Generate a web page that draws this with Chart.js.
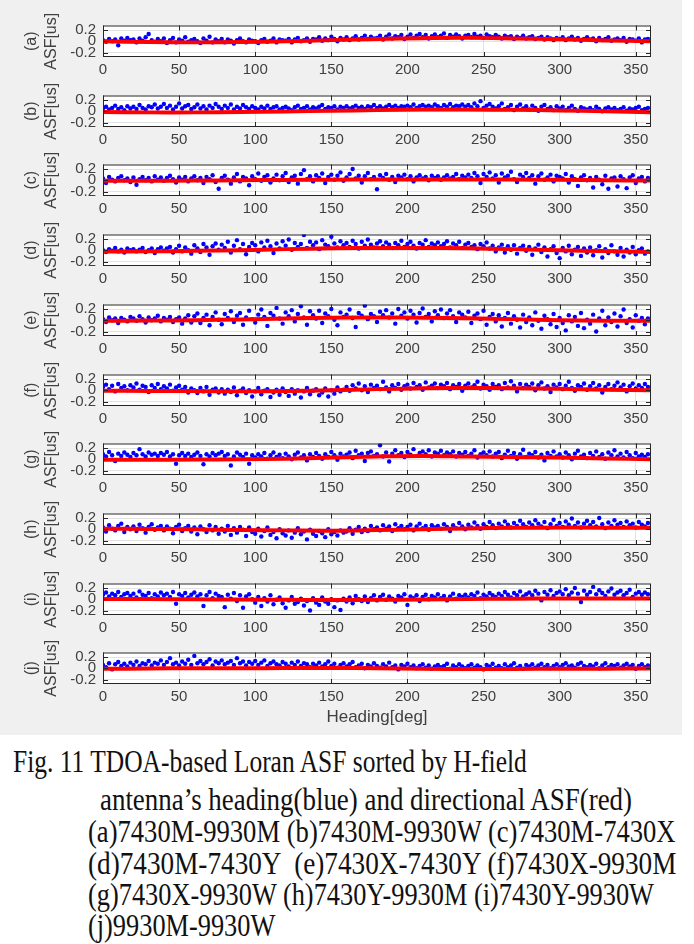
<!DOCTYPE html>
<html>
<head>
<meta charset="utf-8">
<script src="https://cdn.jsdelivr.net/npm/chart.js@4.4.0/dist/chart.umd.min.js"></script>
<style>
  body { margin: 0; background: #fff; width: 694px; height: 944px; position: relative; overflow: hidden; }
  #fig { position: absolute; left: 0; top: 0; width: 682px; height: 735px; background: #f0f0f0; }
  #fig canvas { position: absolute; left: 0; }
  .cap { position: absolute; font-family: 'Liberation Serif', 'DejaVu Serif', serif; font-size: 31px;
         line-height: 32px; white-space: pre; color: #111; transform-origin: 0 50%; }
</style>
</head>
<body>
<div id="fig"></div>
<div class="cap" data-right="527" style="left:13px; top:746px;">Fig. 11 TDOA-based Loran ASF sorted by H-field</div>
<div class="cap" data-right="632" style="left:100px; top:784px;">antenna’s heading(blue) and directional ASF(red)</div>
<div class="cap" data-right="676" style="left:88px; top:816px;">(a)7430M-9930M (b)7430M-9930W (c)7430M-7430X</div>
<div class="cap" data-right="676" style="left:88px; top:848px;">(d)7430M-7430Y  (e)7430X-7430Y (f)7430X-9930M</div>
<div class="cap" data-right="654" style="left:88px; top:879px;">(g)7430X-9930W (h)7430Y-9930M (i)7430Y-9930W</div>
<div class="cap" data-right="275" style="left:88px; top:910px;">(j)9930M-9930W</div>
<script>
// heading of each sample [deg]
const heading = [
  0,2,4,6,8,10,12,14,16,18,20,22,24,26,28,30,32,34,36,38,
  40,42,44,46,48,50,52,54,56,58,60,62,64,66,68,70,72,74,76,78,
  80,82,84,86,88,90,92,94,96,98,100,102,104,106,108,110,112,114,116,118,
  120,122,124,126,128,130,132,134,136,138,140,142,144,146,148,150,152,154,156,158,
  160,162,164,166,168,170,172,174,176,178,180,182,184,186,188,190,192,194,196,198,
  200,202,204,206,208,210,212,214,216,218,220,222,224,226,228,230,232,234,236,238,
  240,242,244,246,248,250,252,254,256,258,260,262,264,266,268,270,272,274,276,278,
  280,282,284,286,288,290,292,294,296,298,300,302,304,306,308,310,312,314,316,318,
  320,322,324,326,328,330,332,334,336,338,340,342,344,346,348,350,352,354,356,358
];
// heading of the directional ASF (red) curve
const curveHeading = [0,30,60,90,120,150,180,210,240,270,300,330,360];
const xTicks = [0,50,100,150,200,250,300,350];
const yTicks = [-0.2,0,0.2];
const panelLabels = ['(a)','(b)','(c)','(d)','(e)','(f)','(g)','(h)','(i)','(j)'];

// TDOA-based ASF [us] (blue)
const asfA = [
  0.02,-0.01,0.04,0.00,0.03,-0.07,0.05,0.01,0.06,0.02, 0.03,-0.02,0.05,0.01,0.07,0.13,0.02,-0.01,0.04,0.00,
  0.05,-0.03,0.02,0.06,-0.02,0.03,0.01,0.07,-0.01,0.02, 0.04,0.00,-0.03,0.05,0.01,0.08,-0.02,0.03,0.00,0.04,
  -0.02,0.03,0.01,-0.04,0.02,0.05,0.00,-0.02,0.03,0.01, 0.00,-0.03,0.02,0.04,-0.01,0.01,0.05,-0.02,0.03,0.02,
  0.01,0.04,-0.02,0.03,0.06,0.00,0.02,0.05,-0.01,0.04, 0.03,0.07,0.01,0.05,0.02,0.08,0.04,0.00,0.06,0.03,
  0.07,0.02,0.05,0.09,0.03,0.06,0.10,0.04,0.08,0.05, 0.06,0.10,0.03,0.08,0.12,0.05,0.09,0.07,0.11,0.04,
  0.08,0.12,0.06,0.10,0.13,0.07,0.11,0.05,0.09,0.12, 0.07,0.10,0.14,0.06,0.11,0.08,0.12,0.09,0.05,0.10,
  0.11,0.07,0.13,0.08,0.10,0.06,0.12,0.09,0.07,0.11, 0.08,0.05,0.10,0.07,0.09,0.04,0.08,0.06,0.10,0.05,
  0.07,0.09,0.04,0.06,0.08,0.03,0.07,0.05,0.02,0.06, 0.04,0.07,0.02,0.05,0.08,0.03,0.06,0.01,0.04,0.07,
  0.03,0.05,0.00,0.06,0.02,0.04,0.07,0.01,0.03,0.05, 0.02,0.06,-0.01,0.04,0.03,0.01,0.05,-0.02,0.03,0.04
];
const asfB = [
  0.05,0.08,0.03,0.06,0.10,0.04,0.07,0.02,0.09,0.05, 0.08,0.04,0.11,0.06,0.03,0.09,0.07,0.12,0.05,0.08,
  0.13,0.06,0.10,0.03,0.08,0.14,0.05,0.09,0.11,0.04, 0.07,0.12,0.05,0.09,0.03,0.10,0.06,0.13,0.08,0.04,
  0.10,0.06,0.12,0.03,0.08,0.05,0.11,0.07,0.04,0.09, 0.06,0.03,0.08,0.05,0.10,0.04,0.07,0.09,0.03,0.06,
  0.08,0.05,0.02,0.07,0.10,0.04,0.06,0.09,0.03,0.07, 0.05,0.08,0.11,0.04,0.07,0.06,0.09,0.03,0.08,0.06,
  0.09,0.05,0.07,0.10,0.06,0.08,0.04,0.09,0.07,0.11, 0.06,0.09,0.05,0.08,0.11,0.07,0.10,0.06,0.09,0.08,
  0.10,0.07,0.12,0.06,0.09,0.11,0.08,0.10,0.07,0.12, 0.09,0.06,0.11,0.08,0.13,0.07,0.10,0.09,0.12,0.08,
  0.11,0.07,0.14,0.09,0.18,0.06,0.10,0.13,0.08,0.05, 0.09,0.14,0.04,0.07,0.11,0.02,0.08,0.12,0.05,0.09,
  0.03,0.10,0.06,0.01,0.08,0.11,0.04,0.07,0.02,0.09, 0.05,0.08,0.02,0.06,0.10,0.04,0.01,0.07,0.05,0.03,
  0.06,0.02,0.08,0.04,0.00,0.05,0.07,0.03,0.06,0.02, 0.04,0.07,0.01,0.05,0.03,0.06,0.08,0.02,0.04,0.06
];
const asfC = [
  0.03,-0.05,0.06,0.01,-0.02,0.04,0.07,0.00,0.03,-0.03, 0.05,-0.08,0.02,0.06,0.00,0.04,-0.02,0.07,0.01,0.05,
  -0.01,0.04,0.08,0.02,-0.04,0.05,0.01,0.06,-0.02,0.03, 0.07,0.00,0.04,-0.05,0.06,0.02,0.09,-0.03,-0.15,0.04,
  0.08,0.01,-0.06,0.05,0.11,-0.02,0.06,0.03,-0.09,0.07, 0.02,0.12,-0.01,0.06,0.09,-0.04,0.03,0.10,0.00,0.07,
  0.13,-0.03,0.05,0.08,-0.06,0.11,0.18,0.02,0.07,-0.02, 0.09,0.04,0.12,-0.05,0.06,0.10,0.01,0.08,0.14,-0.01,
  0.05,0.11,0.20,0.03,0.08,-0.04,0.07,0.13,0.02,0.06, -0.16,0.09,0.04,0.11,0.01,0.06,-0.03,0.08,0.05,0.10,
  0.02,0.07,-0.02,0.05,0.09,0.03,0.06,0.00,0.08,0.04, 0.07,0.01,0.05,0.09,0.03,0.06,0.11,0.02,0.08,0.05,
  0.10,0.04,0.13,0.07,-0.05,0.11,0.06,0.14,0.03,0.09, -0.04,0.12,0.05,0.08,0.15,0.02,-0.03,0.10,0.06,0.13,
  0.04,0.09,-0.06,0.07,0.12,0.01,0.05,0.10,-0.02,0.08, 0.06,0.03,0.11,-0.04,0.07,0.02,-0.10,0.05,0.09,0.00,
  0.04,-0.13,0.06,0.01,-0.07,0.08,-0.15,0.03,0.05,-0.11, 0.07,0.02,-0.14,0.05,0.09,-0.05,0.03,0.06,-0.02,0.04
];
const asfD = [
  0.00,-0.03,0.02,-0.01,0.04,-0.02,0.01,-0.04,0.03,0.00, 0.02,-0.02,0.01,0.04,-0.03,0.00,0.03,-0.05,0.02,0.05,
  -0.01,0.03,0.06,-0.04,0.02,0.08,-0.02,0.05,0.00,-0.06, 0.09,0.03,-0.03,0.11,0.05,-0.08,0.07,0.12,0.01,0.10,
  0.04,0.15,-0.04,0.08,0.18,0.02,0.11,-0.07,0.06,0.13, 0.09,-0.02,0.14,0.05,0.17,0.07,-0.05,0.12,0.03,0.16,
  0.08,0.19,0.01,0.13,0.06,0.11,0.27,0.04,0.15,0.09, 0.14,0.02,0.18,0.10,0.07,0.24,0.12,0.05,0.16,0.09,
  0.13,0.06,0.17,0.11,0.03,0.15,0.08,0.19,0.10,0.05, 0.12,0.16,0.07,0.14,0.10,0.04,0.13,0.09,0.17,0.06,
  0.11,0.15,0.08,0.03,0.13,0.10,0.18,0.06,0.12,0.09, 0.14,0.07,0.11,0.16,0.05,0.12,0.09,0.15,0.04,0.10,
  0.13,0.06,0.09,0.02,0.11,0.07,0.14,0.03,0.08,-0.02, 0.05,0.10,-0.04,0.07,0.01,0.09,-0.06,0.04,0.08,-0.01,
  0.06,-0.08,0.03,0.10,-0.03,0.05,-0.11,0.02,0.07,-0.05, -0.14,0.04,-0.02,0.08,-0.07,0.01,0.06,-0.10,0.03,-0.04,
  0.05,-0.09,0.00,0.07,-0.13,0.02,-0.05,0.09,-0.02,-0.08, 0.04,-0.11,0.01,-0.04,0.06,-0.07,0.00,0.03,-0.06,-0.02
];
const asfE = [
  0.02,-0.03,0.05,0.00,0.03,-0.05,0.04,0.01,-0.02,0.06, 0.03,-0.01,0.07,0.02,-0.04,0.05,0.00,0.03,0.08,-0.02,
  0.04,0.01,0.06,-0.03,0.02,0.05,-0.06,0.03,0.09,-0.04, 0.07,0.12,-0.05,0.04,0.10,-0.09,0.06,0.14,0.01,-0.07,
  0.11,0.04,0.16,-0.03,0.08,0.13,-0.08,0.05,0.17,0.02, -0.04,0.10,0.19,0.06,-0.10,0.13,0.08,0.22,0.03,-0.06,
  0.14,0.07,0.18,-0.02,0.11,0.25,0.05,-0.08,0.16,0.09, 0.03,0.17,-0.05,0.12,0.07,0.20,0.01,-0.09,0.14,0.06,
  0.10,0.19,0.04,-0.12,0.13,0.08,0.26,0.02,0.11,0.07, -0.03,0.15,0.09,0.18,0.05,0.12,-0.06,0.20,0.08,0.14,
  0.03,0.17,0.10,-0.04,0.13,0.21,0.06,0.11,-0.02,0.16, 0.09,0.19,0.04,0.12,0.18,0.07,-0.03,0.14,0.10,0.05,
  0.15,-0.05,0.08,0.12,0.02,0.17,-0.08,0.06,0.11,-0.02, 0.09,-0.11,0.04,0.13,-0.06,0.07,0.01,-0.13,0.10,-0.03,
  0.05,-0.09,0.14,-0.01,-0.15,0.08,0.02,-0.07,0.11,-0.12, 0.04,-0.05,-0.18,0.09,-0.02,0.06,-0.10,0.13,-0.14,0.01,
  -0.06,0.10,-0.20,0.03,0.17,-0.09,0.05,-0.03,0.12,-0.11, 0.07,0.19,-0.05,0.02,-0.13,0.09,-0.01,0.04,-0.07,0.03
];
const asfF = [
  0.06,0.10,0.02,0.08,-0.02,0.11,0.04,0.07,0.00,0.09, 0.05,0.12,0.01,0.08,0.06,-0.03,0.09,0.04,0.11,0.02,
  0.07,0.03,0.10,-0.01,0.05,0.08,0.01,0.06,-0.04,0.03, 0.00,-0.05,0.04,-0.02,0.06,-0.08,0.01,0.03,-0.04,0.02,
  -0.06,0.01,-0.03,0.05,-0.09,-0.01,0.03,-0.05,0.00,-0.11, -0.02,0.04,-0.07,-0.01,0.02,-0.12,-0.04,0.01,-0.08,0.03,
  -0.03,-0.10,0.02,-0.06,0.00,-0.13,-0.02,0.04,-0.07,-0.01, 0.02,-0.09,-0.04,0.03,-0.11,0.00,-0.06,0.05,-0.02,0.01,
  0.06,-0.01,0.09,0.03,0.12,0.00,0.07,-0.03,0.10,0.04, 0.08,0.02,0.15,0.05,-0.02,0.09,0.04,0.11,0.01,0.07,
  0.10,0.03,0.13,0.06,0.09,0.01,0.14,0.05,0.08,0.12, 0.04,0.10,0.07,0.13,0.02,0.09,0.06,0.11,-0.01,0.08,
  0.12,0.05,0.09,0.15,0.03,0.10,0.07,0.01,0.11,0.06, 0.09,0.02,0.13,0.05,0.16,0.08,-0.02,0.11,0.04,0.10,
  0.06,0.12,0.00,0.09,0.14,0.03,0.07,-0.03,0.10,0.05, 0.11,0.02,0.08,0.15,0.04,-0.01,0.09,0.06,0.12,0.01,
  0.07,0.13,0.03,0.09,-0.04,0.06,0.11,0.02,0.08,0.14, 0.05,0.10,-0.02,0.07,0.12,0.03,0.09,0.04,0.11,0.06
];
const asfG = [
  0.09,0.05,0.13,0.07,-0.03,0.10,0.06,0.12,0.08,0.04, 0.11,0.07,0.18,0.09,0.05,0.12,0.08,0.10,0.06,0.11,
  0.08,0.13,0.05,0.09,-0.08,0.07,0.11,0.06,0.10,0.04, 0.08,0.12,0.06,-0.09,0.09,0.05,0.11,0.07,0.10,0.13,
  0.06,0.09,-0.11,0.05,0.12,0.08,0.04,0.10,-0.08,0.07, 0.03,0.09,0.05,0.11,0.01,0.07,0.12,0.04,0.08,0.02,
  0.10,0.05,0.00,0.08,0.12,0.03,0.07,-0.02,0.09,0.04, 0.11,0.06,0.01,0.09,0.04,0.13,0.07,-0.01,0.10,0.05,
  0.08,0.12,0.02,0.15,0.07,0.10,-0.03,0.11,0.14,0.06, 0.09,0.25,0.05,0.12,-0.04,0.10,0.16,0.07,0.11,0.04,
  0.13,0.08,0.18,0.06,0.11,0.14,0.09,0.16,0.05,0.12, 0.10,0.15,0.07,0.12,0.09,0.14,0.05,0.11,0.08,0.13,
  0.06,0.10,0.16,0.03,0.09,0.12,0.07,0.14,0.05,0.10, 0.13,0.02,0.08,0.15,0.06,0.11,0.01,0.09,0.17,0.04,
  0.10,0.07,0.13,0.03,0.08,-0.02,0.11,0.06,0.14,0.05, 0.09,0.03,0.12,0.07,0.00,0.10,0.15,0.05,0.08,0.02,
  0.11,0.06,0.14,0.04,0.09,0.01,0.12,0.07,0.16,0.05, 0.10,0.03,0.13,0.07,0.02,0.11,0.05,0.08,0.04,0.09
];
const asfH = [
  0.03,-0.04,0.07,0.01,-0.02,0.06,0.10,-0.05,0.04,0.00, 0.05,-0.03,0.08,0.02,-0.06,0.04,0.09,-0.01,0.03,0.06,
  -0.02,0.05,0.01,-0.07,0.04,0.08,-0.03,0.02,0.06,-0.04, 0.03,-0.09,0.05,0.00,-0.05,0.07,-0.02,0.04,-0.08,0.01,
  -0.04,0.06,-0.10,0.02,-0.06,0.04,-0.01,-0.12,0.03,-0.05, -0.08,0.01,-0.13,-0.03,0.03,-0.10,-0.05,-0.16,0.00,-0.07,
  -0.11,-0.02,-0.15,-0.06,0.02,-0.09,-0.04,-0.18,-0.01,-0.08, -0.12,-0.03,-0.07,-0.14,0.00,-0.09,-0.05,-0.11,-0.02,-0.06,
  -0.04,0.02,-0.08,-0.01,0.04,-0.05,0.01,-0.03,0.06,0.00, 0.03,-0.02,0.07,0.01,0.05,-0.03,0.09,0.02,0.06,0.00,
  0.04,0.08,-0.02,0.05,0.10,0.02,0.06,-0.01,0.07,0.03, 0.06,0.01,0.09,0.04,-0.03,0.07,0.02,0.11,0.05,0.00,
  0.08,0.03,0.12,0.06,0.01,0.09,0.04,0.13,0.07,0.02, 0.10,0.05,0.14,0.08,0.03,0.11,0.06,0.15,0.09,0.04,
  0.12,0.07,0.16,0.10,0.05,0.13,0.02,0.09,0.17,0.06, 0.11,0.04,0.14,0.08,0.19,0.06,0.12,0.03,0.10,0.15,
  0.07,0.13,0.05,0.20,0.09,0.02,0.12,0.06,0.16,0.08, 0.11,0.04,0.14,0.07,0.10,0.03,0.13,0.08,0.05,0.11
];
const asfI = [
  0.08,0.12,0.05,0.10,0.07,0.13,0.04,0.09,0.11,0.06, 0.10,0.03,0.14,0.08,0.06,0.11,0.02,0.09,0.05,0.12,
  0.07,0.10,0.04,0.13,-0.08,0.09,0.06,0.11,0.03,0.08, 0.12,0.05,0.09,-0.12,0.07,0.13,0.02,0.10,0.06,0.04,
  -0.14,0.08,0.01,0.11,-0.03,0.07,-0.15,0.05,0.09,0.00, -0.06,0.04,-0.12,0.02,-0.04,0.07,-0.09,-0.01,0.03,-0.07,
  -0.15,-0.02,0.04,-0.08,-0.05,0.01,-0.11,-0.03,-0.20,0.02, -0.06,-0.10,0.03,-0.04,-0.08,0.00,-0.14,-0.02,-0.19,0.01,
  -0.04,0.03,-0.07,0.06,0.00,-0.03,0.05,-0.05,0.02,0.07, -0.02,0.04,0.08,-0.01,0.05,0.01,-0.04,0.06,0.03,0.09,
  -0.10,0.05,0.02,0.07,-0.03,0.04,0.08,0.00,0.06,0.03, 0.09,0.02,0.06,-0.02,0.05,0.10,0.01,0.07,0.04,0.08,
  0.03,0.09,0.06,0.12,0.02,0.08,0.05,0.11,0.07,0.04, 0.10,0.06,0.13,0.08,0.03,0.11,0.07,0.14,0.05,0.09,
  0.12,0.07,0.15,0.10,-0.02,0.13,0.08,0.16,0.06,0.11, 0.14,0.09,0.18,0.07,0.12,0.20,0.10,-0.05,0.15,0.08,
  0.13,0.22,0.09,0.16,0.11,0.06,0.14,0.19,0.08,0.12, 0.15,0.07,0.11,0.17,0.04,0.10,0.13,0.08,0.12,0.09
];
const asfJ = [
  0.06,0.02,0.09,-0.02,0.07,0.11,0.04,0.08,0.03,0.10, 0.06,0.12,0.04,0.09,0.07,0.13,0.05,0.10,0.08,0.14,
  0.06,0.11,0.18,0.07,0.10,0.05,0.12,0.08,0.15,0.06, 0.22,0.09,0.13,0.07,0.11,0.16,0.05,0.12,0.09,0.14,
  0.07,0.10,0.13,0.06,0.18,0.09,0.12,0.05,0.11,0.08, 0.13,0.06,0.10,0.14,0.04,0.09,0.12,0.07,0.05,0.11,
  0.08,0.03,0.10,0.06,0.12,0.04,0.09,0.07,0.02,0.08, 0.05,0.10,0.03,0.07,0.12,0.04,0.08,0.01,0.06,0.09,
  0.03,0.07,0.11,0.02,0.05,0.08,0.00,0.06,0.03,0.09, 0.04,0.01,0.07,0.03,0.10,0.02,0.05,-0.02,0.06,0.03,
  0.08,0.02,0.05,0.00,0.04,0.07,0.01,0.05,-0.01,0.03, 0.06,0.02,0.04,0.08,-0.01,0.05,0.02,0.07,0.03,0.00,
  0.04,0.07,0.01,0.05,0.02,-0.02,0.06,0.03,0.08,0.01, 0.04,0.00,0.07,0.02,0.05,0.09,0.01,0.04,-0.01,0.06,
  0.03,0.07,0.01,0.05,0.08,0.02,0.06,0.00,0.04,0.07, 0.02,0.06,0.09,0.03,0.05,0.01,0.07,0.10,0.04,0.02,
  0.06,0.03,0.08,0.00,0.05,0.09,0.02,0.06,0.04,0.07, 0.01,0.05,0.08,0.03,0.06,-0.01,0.04,0.07,0.02,0.05
];

// directional ASF [us] (red), at curveHeading
const dirA = [0,-0.015,-0.02,-0.015,0,0.02,0.04,0.055,0.06,0.05,0.035,0.015,0];
const dirB = [-0.015,-0.02,-0.02,-0.015,-0.005,0.01,0.02,0.03,0.03,0.025,0.015,0,-0.02];
const dirC = [-0.01,-0.008,-0.005,0,0.005,0.01,0.012,0.015,0.015,0.012,0.008,0,-0.005];
const dirD = [-0.02,-0.02,-0.01,0,0.02,0.035,0.04,0.04,0.035,0.02,0,-0.015,-0.03];
const dirE = [-0.01,-0.005,0,0.015,0.03,0.045,0.05,0.045,0.035,0.02,0,-0.01,-0.01];
const dirF = [-0.01,-0.012,-0.015,-0.02,-0.015,0,0.02,0.035,0.04,0.035,0.025,0.01,0];
const dirG = [-0.01,-0.01,-0.005,0,0.01,0.03,0.05,0.06,0.05,0.04,0.03,0.015,0];
const dirH = [0.01,0.005,0,-0.015,-0.02,-0.025,-0.015,0,0.015,0.025,0.03,0.028,0.025];
const dirI = [0.005,0.003,0,-0.005,-0.01,-0.015,-0.01,-0.005,0.005,0.01,0.015,0.015,0.015];
const dirJ = [-0.01,-0.005,0,0,0.003,0.005,0,-0.008,-0.015,-0.012,-0.01,-0.008,-0.005];

const asfSeries = [asfA, asfB, asfC, asfD, asfE, asfF, asfG, asfH, asfI, asfJ];
const dirSeries = [dirA, dirB, dirC, dirD, dirE, dirF, dirG, dirH, dirI, dirJ];

const TXT = '#404040';
const FONT = 'Liberation Sans, Arial, sans-serif';

// white plot area, box and inward tick marks (matlab look)
const boxPlugin = {
  id: 'box',
  beforeDraw(chart) {
    const a = chart.chartArea, ctx = chart.ctx;
    ctx.save();
    ctx.fillStyle = '#fff';
    ctx.fillRect(a.left, a.top, a.width, a.height);
    ctx.restore();
  },
  afterDraw(chart) {
    const a = chart.chartArea, ctx = chart.ctx;
    const x = chart.scales.x, y = chart.scales.y;
    ctx.save();
    ctx.strokeStyle = '#262626';
    ctx.lineWidth = 1;
    ctx.strokeRect(a.left + 0.5, a.top + 0.5, a.width - 1, a.height - 1);
    ctx.beginPath();
    xTicks.forEach(function(v) {
      const px = Math.round(x.getPixelForValue(v)) + 0.5;
      ctx.moveTo(px, a.top); ctx.lineTo(px, a.top + 5);
      ctx.moveTo(px, a.bottom); ctx.lineTo(px, a.bottom - 5);
    });
    yTicks.forEach(function(v) {
      const py = Math.round(y.getPixelForValue(v)) + 0.5;
      ctx.moveTo(a.left, py); ctx.lineTo(a.left + 5, py);
      ctx.moveTo(a.right, py); ctx.lineTo(a.right - 5, py);
    });
    ctx.stroke();
    ctx.restore();
  }
};

const fig = document.getElementById('fig');

panelLabels.forEach(function(label, i) {
  const last = i === panelLabels.length - 1;
  const h = last ? 92 : 68;
  const canvas = document.createElement('canvas');
  canvas.width = 668; canvas.height = h;
  canvas.style.width = '668px'; canvas.style.height = h + 'px';
  canvas.style.top = Math.round(19 + i * 69.7 - 8) + 'px';
  fig.appendChild(canvas);

  const points = heading.map(function(hd, k) { return {x: hd, y: asfSeries[i][k]}; });
  const curve = curveHeading.map(function(hd, k) { return {x: hd, y: dirSeries[i][k]}; });

  new Chart(canvas, {
    type: 'scatter',
    data: {
      datasets: [{
        data: curve,
        showLine: true,
        borderColor: '#ff0000',
        borderWidth: 4,
        tension: 0.4,
        pointRadius: 0
      }, {
        data: points,
        backgroundColor: '#0000ff',
        borderWidth: 0,
        pointRadius: 2.2
      }]
    },
    options: {
      responsive: false,
      animation: false,
      devicePixelRatio: 1,
      layout: {padding: {left: 0, right: 17, top: 8, bottom: 0}},
      plugins: {legend: {display: false}, tooltip: {enabled: false}},
      scales: {
        x: {
          type: 'linear', min: 0, max: 360,
          afterBuildTicks: function(s) { s.ticks = xTicks.map(function(v) { return {value: v}; }); },
          afterFit: function(s) { s.height = last ? 46 : 22; },
          grid: {color: '#e2e2e2', drawTicks: false},
          border: {display: false},
          ticks: {padding: 4, color: TXT, font: {family: FONT, size: 15}, maxRotation: 0, autoSkip: false,
                  callback: function(v) { return String(v); }},
          title: {display: last, text: 'Heading[deg]', color: TXT, font: {family: FONT, size: 17},
                  padding: {top: 0, bottom: 2}}
        },
        y: {
          min: -0.28, max: 0.28,
          afterBuildTicks: function(s) { s.ticks = yTicks.map(function(v) { return {value: v}; }); },
          afterFit: function(s) { s.width = 103; },
          grid: {color: '#e2e2e2', drawTicks: false},
          border: {display: false},
          ticks: {padding: 7, color: TXT, font: {family: FONT, size: 15, lineHeight: 1}, autoSkip: false,
                  callback: function(v) { return v === 0 ? '0' : String(v); }},
          title: {display: true, text: [label, 'ASF[us]'], color: TXT,
                  font: {family: FONT, size: 16, lineHeight: 1.25}, padding: {top: 22, bottom: 0}}
        }
      }
    },
    plugins: [boxPlugin]
  });
});

// caption lines stretched to their width in the reference
document.querySelectorAll('.cap').forEach(function(el) {
  const target = Number(el.dataset.right) - el.offsetLeft;
  el.style.transform = 'scaleX(' + (target / el.offsetWidth).toFixed(3) + ')';
});
</script>
</body>
</html>
